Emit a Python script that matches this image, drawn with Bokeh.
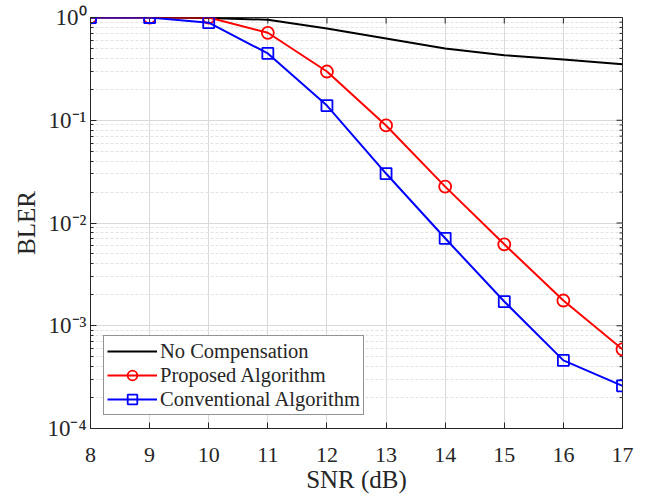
import math
from bokeh.plotting import figure
from bokeh.models import Legend, LegendItem, FixedTicker, CustomJSTickFormatter, Range1d
from bokeh.embed import file_html
from bokeh.resources import INLINE

snr = [8, 9, 10, 11, 12, 13, 14, 15, 16, 17]
no_comp = [1.0, 1.0, 0.99, 0.95, 0.78, 0.625, 0.50, 0.43, 0.39, 0.35]
proposed = [1.0, 1.0, 1.0, 0.71, 0.298, 0.089, 0.0226, 0.0062, 0.00176, 0.00059]
conventional = [1.0, 1.0, 0.89, 0.447, 0.139, 0.0303, 0.0071, 0.00172, 0.00046, 0.00026]
x_ticks = [8, 9, 10, 11, 12, 13, 14, 15, 16, 17]
y_ticks = [1e-4, 1e-3, 1e-2, 1e-1, 1]
y_minor = [m * 10**k for k in range(-4, 0) for m in range(2, 10)]

FONT = "Liberation Serif"
AX = "#262626"

p = figure(width=640, height=497, y_axis_type="log", output_backend="svg",
           toolbar_location=None, x_range=Range1d(8, 17), y_range=Range1d(1e-4, 1),
           min_border_left=90, min_border_right=18, min_border_top=17, min_border_bottom=69)

fmt = CustomJSTickFormatter(code="""
const sup = {'0':'\u2070','1':'\u00b9','2':'\u00b2','3':'\u00b3','4':'\u2074','5':'\u2075','6':'\u2076','7':'\u2077','8':'\u2078','9':'\u2079','-':'\u207b'};
const e = Math.round(Math.log10(tick));
return '10' + String(e).split('').map(c => sup[c]).join('');
""")

p.xaxis.ticker = FixedTicker(ticks=x_ticks)
p.yaxis.ticker = FixedTicker(ticks=y_ticks, minor_ticks=y_minor)
p.yaxis.formatter = fmt

for ax in [p.xaxis[0], p.yaxis[0]]:
    ax.major_label_text_font = FONT
    ax.major_label_text_color = AX
    ax.axis_label_text_font = FONT
    ax.axis_label_text_font_size = "25px"
    ax.axis_label_text_font_style = "normal"
    ax.axis_label_text_color = AX
    ax.major_tick_in = 6
    ax.major_tick_out = 0
    ax.minor_tick_in = 3
    ax.minor_tick_out = 0
    ax.axis_line_color = AX
    ax.major_tick_line_color = AX
    ax.minor_tick_line_color = AX
p.xaxis.major_label_text_font_size = "22px"
p.yaxis.major_label_text_font_size = "23px"
p.xaxis.minor_tick_line_color = None
p.xaxis.major_label_standoff = 19
p.yaxis.major_label_standoff = 4
p.xaxis.axis_label_standoff = 1
p.yaxis.axis_label_standoff = 4
p.xaxis.axis_label = "SNR (dB)"
p.yaxis.axis_label = "BLER"

p.xgrid.grid_line_color = "#d9d9d9"
p.ygrid.grid_line_color = "#d9d9d9"
p.ygrid.minor_grid_line_color = "#e3e3e3"
p.ygrid.minor_grid_line_dash = "3 2"
p.outline_line_color = AX

# ticks on top and right edges (box style)
p.ray(x=x_ticks, y=[1.0] * len(x_ticks), length=6, length_units="screen",
      angle=-math.pi / 2, line_color=AX, line_width=1)
p.ray(x=[17] * len(y_ticks), y=y_ticks, length=6, length_units="screen",
      angle=math.pi, line_color=AX, line_width=1)
p.ray(x=[17] * len(y_minor), y=y_minor, length=3, length_units="screen",
      angle=math.pi, line_color=AX, line_width=1)

r1 = p.line(snr, no_comp, line_color="black", line_width=2)
r2 = p.line(snr, proposed, line_color="#ff0000", line_width=2)
r2m = p.scatter(snr, proposed, marker="circle", size=12, line_color="#ff0000", fill_color=None, line_width=1.8)
r3 = p.line(snr, conventional, line_color="#0000ff", line_width=2)
r3m = p.scatter(snr, conventional, marker="square", size=11, line_color="#0000ff", fill_color=None, line_width=1.8)

legend = Legend(items=[
    LegendItem(label="No Compensation", renderers=[r1]),
    LegendItem(label="Proposed Algorithm", renderers=[r2, r2m]),
    LegendItem(label="Conventional Algorithm", renderers=[r3, r3m]),
], location="bottom_left")
legend.label_text_font = FONT
legend.label_text_font_size = "20.5px"
legend.label_text_color = AX
legend.border_line_color = AX
legend.border_line_width = 1
legend.spacing = 0
legend.padding = 3
legend.margin = 13
legend.glyph_width = 50
legend.label_standoff = 3
legend.label_height = 24
legend.glyph_height = 24
p.add_layout(legend)

open("out.html", "w").write(file_html(p, INLINE))
